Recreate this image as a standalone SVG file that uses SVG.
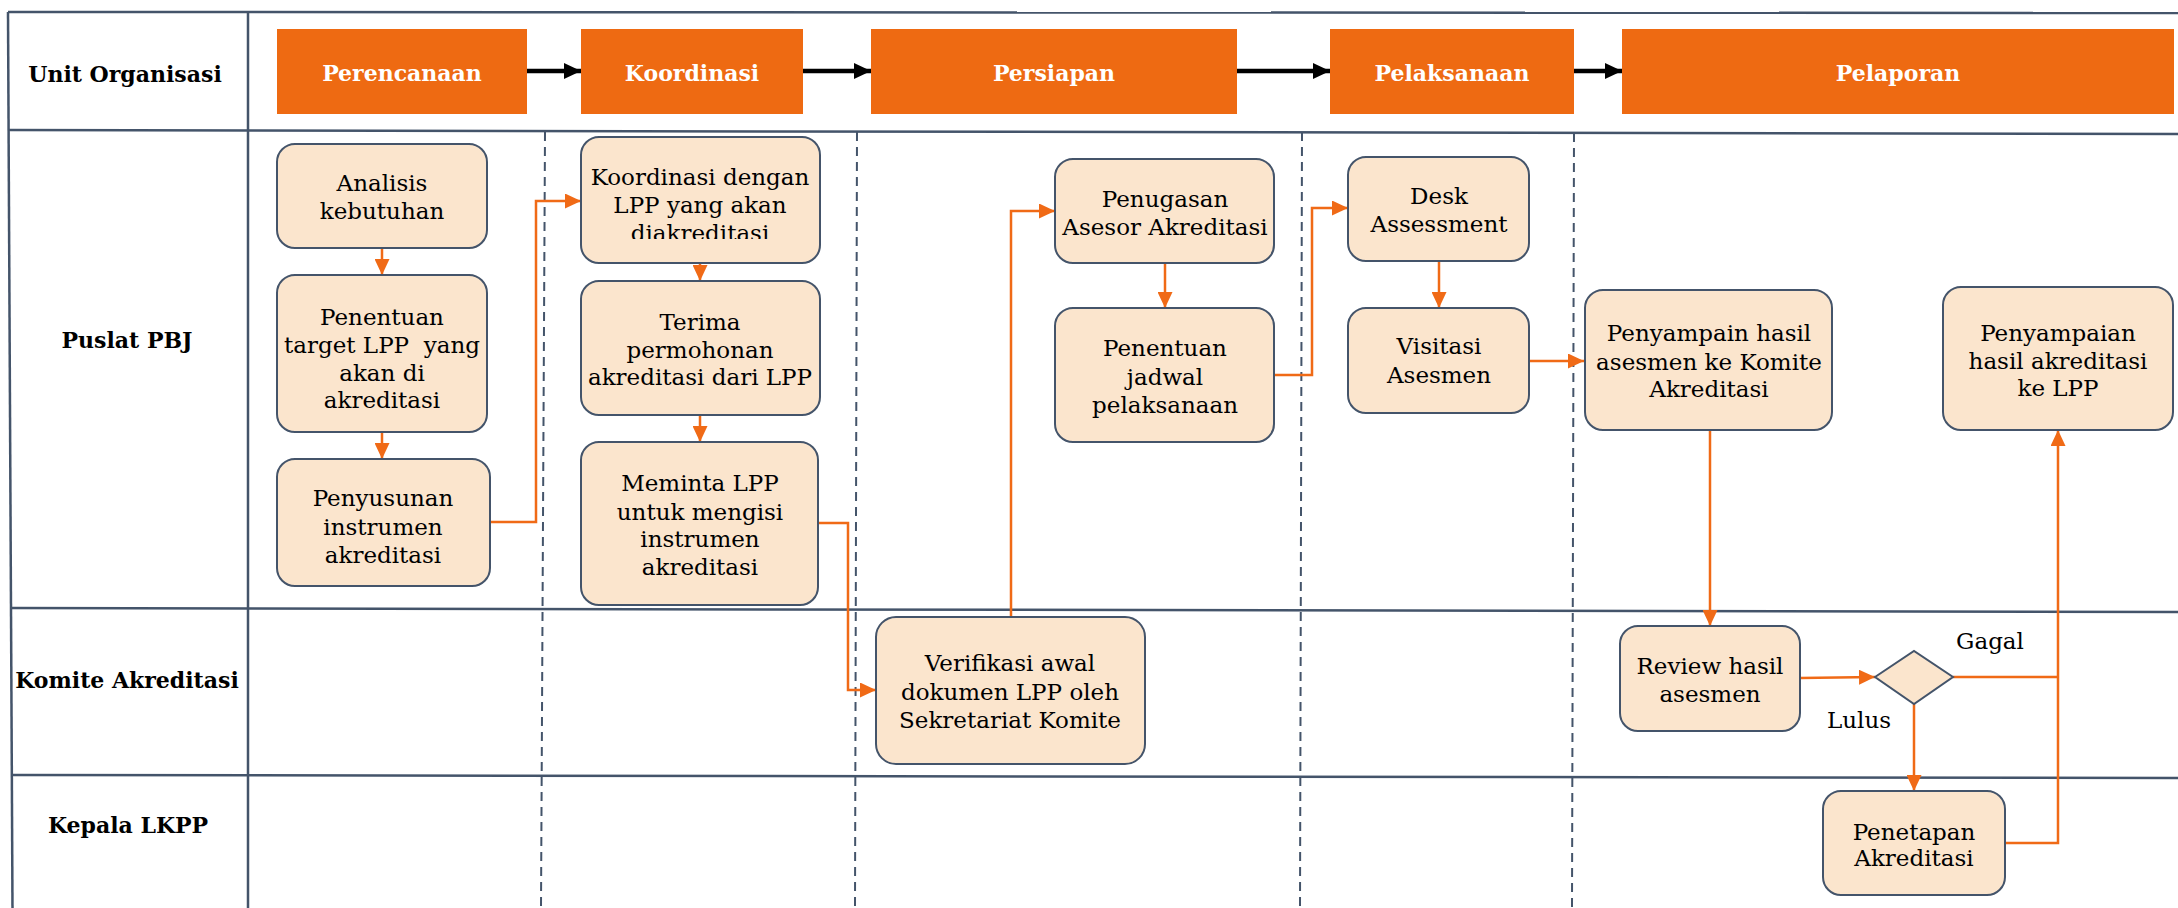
<svg xmlns="http://www.w3.org/2000/svg" width="2178" height="908" viewBox="0 0 2178 908">
  <style>
    .frame { stroke: #44546A; stroke-width: 2.5; fill: none; }
    .sep { stroke: #44546A; stroke-width: 2; stroke-dasharray: 9 6; fill: none; }
    .phase rect { fill: #EE6A12; }
    .phase text { fill: #FFFFFF; font-family: "DejaVu Serif", "Liberation Serif", serif; font-weight: bold; font-size: 22px; text-anchor: middle; }
    .lane { fill: #000000; font-family: "DejaVu Serif", "Liberation Serif", serif; font-weight: bold; font-size: 22px; text-anchor: middle; }
    .node rect, .node polygon { fill: #FBE5CD; stroke: #44546A; stroke-width: 2; }
    .node text, .lbl { fill: #000000; font-family: "DejaVu Serif", "Liberation Serif", serif; font-size: 23px; text-anchor: middle; white-space: pre; }
    .flow { stroke: #F06A16; stroke-width: 2.5; fill: none; marker-end: url(#ah); }
    .flow-plain { stroke: #F06A16; stroke-width: 2.5; fill: none; }
    .step { stroke: #000000; stroke-width: 4.5; fill: none; marker-end: url(#ahk); }
  </style>
  <defs>
    <marker id="ah" markerUnits="userSpaceOnUse" markerWidth="16" markerHeight="15" refX="16" refY="7.5" orient="auto">
      <path d="M0,0 L16,7.5 L0,15 z" fill="#F06A16"/>
    </marker>
    <marker id="ahk" markerUnits="userSpaceOnUse" markerWidth="17" markerHeight="16" refX="17" refY="8" orient="auto">
      <path d="M0,0 L17,8 L0,16 z" fill="#000000"/>
    </marker>
    <clipPath id="clipKoord">
      <rect x="581" y="137" width="239" height="102"/>
    </clipPath>
  </defs>

  <rect width="2178" height="908" fill="#FFFFFF"/>

  <!-- swimlane frame -->
  <g id="frame">
    <path class="frame" d="M8,12 L2178,13"/>
    <path class="frame" d="M8,12 L12.5,908"/>
    <path class="frame" d="M248,12 L248,908"/>
    <path class="frame" d="M8,130 L2178,134"/>
    <path class="frame" d="M10,608 L2178,612"/>
    <path class="frame" d="M11,775 L2178,778"/>
    <path class="sep" d="M545,132 L541,908"/>
    <path class="sep" d="M857,132 L855,908"/>
    <path class="sep" d="M1302,132 L1300,908"/>
    <path class="sep" d="M1574,133 L1572,908"/>
  </g>

  <!-- lane titles -->
  <g id="lanes">
    <text class="lane" x="125" y="82">Unit Organisasi</text>
    <text class="lane" x="127" y="348">Puslat PBJ</text>
    <text class="lane" x="127" y="688">Komite Akreditasi</text>
    <text class="lane" x="128" y="833">Kepala LKPP</text>
  </g>

  <!-- phase headers -->
  <g id="phase-perencanaan" class="phase"><rect x="277" y="29" width="250" height="85"/><text x="402" y="81">Perencanaan</text></g>
  <g id="phase-koordinasi" class="phase"><rect x="581" y="29" width="222" height="85"/><text x="692" y="81">Koordinasi</text></g>
  <g id="phase-persiapan" class="phase"><rect x="871" y="29" width="366" height="85"/><text x="1054" y="81">Persiapan</text></g>
  <g id="phase-pelaksanaan" class="phase"><rect x="1330" y="29" width="244" height="85"/><text x="1452" y="81">Pelaksanaan</text></g>
  <g id="phase-pelaporan" class="phase"><rect x="1622" y="29" width="552" height="85"/><text x="1898" y="81">Pelaporan</text></g>

  <!-- connectors -->
  <g id="connectors">
    <path class="step" d="M527,71 H581"/>
    <path class="step" d="M803,71 H871"/>
    <path class="step" d="M1237,71 H1330"/>
    <path class="step" d="M1574,71 H1622"/>

    <path class="flow" d="M382,248 V275"/>
    <path class="flow" d="M382,432 V459"/>
    <path class="flow" d="M490,522 H536 V201 H581"/>
    <path class="flow" d="M700,263 V281"/>
    <path class="flow" d="M700,415 V442"/>
    <path class="flow" d="M818,523 H848 V690 H876"/>
    <path class="flow" d="M1011,617 V211 H1055"/>
    <path class="flow" d="M1165,263 V308"/>
    <path class="flow" d="M1274,375 H1312 V208 H1348"/>
    <path class="flow" d="M1439,261 V308"/>
    <path class="flow" d="M1529,361 H1584"/>
    <path class="flow" d="M1710,430 V626"/>
    <path class="flow" d="M1800,678 L1875,677"/>
    <path class="flow" d="M1914,704 V791"/>
    <path class="flow-plain" d="M1953,677 H2058"/>
    <path class="flow" d="M2005,843 H2058 V430"/>
  </g>

  <!-- Puslat PBJ -->
  <g id="analisis" class="node">
    <rect x="277" y="144" width="210" height="104" rx="18"/>
    <text x="382" y="191">Analisis</text>
    <text x="382" y="219">kebutuhan</text>
  </g>
  <g id="penentuan-target" class="node">
    <rect x="277" y="275" width="210" height="157" rx="18"/>
    <text x="382" y="325">Penentuan</text>
    <text x="382" y="353">target LPP  yang</text>
    <text x="382" y="381">akan di</text>
    <text x="382" y="408">akreditasi</text>
  </g>
  <g id="penyusunan" class="node">
    <rect x="277" y="459" width="213" height="127" rx="18"/>
    <text x="383" y="506">Penyusunan</text>
    <text x="383" y="535">instrumen</text>
    <text x="383" y="563">akreditasi</text>
  </g>
  <g id="koordinasi-lpp" class="node">
    <rect x="581" y="137" width="239" height="126" rx="18"/>
    <g clip-path="url(#clipKoord)">
      <text x="700" y="185">Koordinasi dengan</text>
      <text x="700" y="213">LPP yang akan</text>
      <text x="700" y="241">diakreditasi</text>
    </g>
  </g>
  <g id="terima" class="node">
    <rect x="581" y="281" width="239" height="134" rx="18"/>
    <text x="700" y="330">Terima</text>
    <text x="700" y="358">permohonan</text>
    <text x="700" y="385">akreditasi dari LPP</text>
  </g>
  <g id="meminta" class="node">
    <rect x="581" y="442" width="237" height="163" rx="18"/>
    <text x="700" y="491">Meminta LPP</text>
    <text x="700" y="520">untuk mengisi</text>
    <text x="700" y="547">instrumen</text>
    <text x="700" y="575">akreditasi</text>
  </g>
  <g id="penugasan" class="node">
    <rect x="1055" y="159" width="219" height="104" rx="18"/>
    <text x="1165" y="207">Penugasan</text>
    <text x="1165" y="235">Asesor Akreditasi</text>
  </g>
  <g id="jadwal" class="node">
    <rect x="1055" y="308" width="219" height="134" rx="18"/>
    <text x="1165" y="356">Penentuan</text>
    <text x="1165" y="385">jadwal</text>
    <text x="1165" y="413">pelaksanaan</text>
  </g>
  <g id="desk" class="node">
    <rect x="1348" y="157" width="181" height="104" rx="18"/>
    <text x="1439" y="204">Desk</text>
    <text x="1439" y="232">Assessment</text>
  </g>
  <g id="visitasi" class="node">
    <rect x="1348" y="308" width="181" height="105" rx="18"/>
    <text x="1439" y="354">Visitasi</text>
    <text x="1439" y="383">Asesmen</text>
  </g>
  <g id="penyampain-hasil" class="node">
    <rect x="1585" y="290" width="247" height="140" rx="18"/>
    <text x="1709" y="341">Penyampain hasil</text>
    <text x="1709" y="370">asesmen ke Komite</text>
    <text x="1709" y="397">Akreditasi</text>
  </g>
  <g id="penyampaian-lpp" class="node">
    <rect x="1943" y="287" width="230" height="143" rx="18"/>
    <text x="2058" y="341">Penyampaian</text>
    <text x="2058" y="369">hasil akreditasi</text>
    <text x="2058" y="396">ke LPP</text>
  </g>

  <!-- Komite Akreditasi -->
  <g id="verifikasi" class="node">
    <rect x="876" y="617" width="269" height="147" rx="20"/>
    <text x="1010" y="671">Verifikasi awal</text>
    <text x="1010" y="700">dokumen LPP oleh</text>
    <text x="1010" y="728">Sekretariat Komite</text>
  </g>
  <g id="review" class="node">
    <rect x="1620" y="626" width="180" height="105" rx="18"/>
    <text x="1710" y="674">Review hasil</text>
    <text x="1710" y="702">asesmen</text>
  </g>
  <g id="keputusan" class="node">
    <polygon points="1875,677 1914,651 1953,677 1914,704"/>
  </g>
  <g id="labels">
    <text class="lbl" x="1990" y="649">Gagal</text>
    <text class="lbl" x="1859" y="728">Lulus</text>
  </g>

  <!-- Kepala LKPP -->
  <g id="penetapan" class="node">
    <rect x="1823" y="791" width="182" height="104" rx="18"/>
    <text x="1914" y="840">Penetapan</text>
    <text x="1914" y="866">Akreditasi</text>
  </g>
</svg>
